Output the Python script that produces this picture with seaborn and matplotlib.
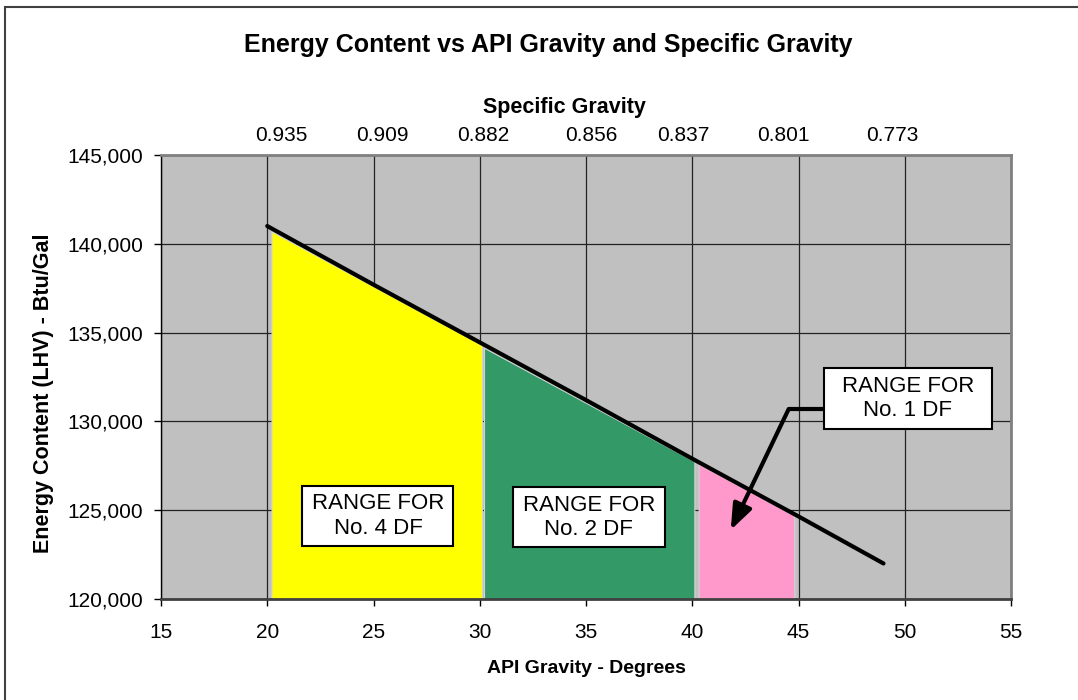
import numpy as np
import pandas as pd
import matplotlib
matplotlib.use('Agg')
import matplotlib.pyplot as plt
from matplotlib.patches import Rectangle
from matplotlib.ticker import StrMethodFormatter
import seaborn as sns

sns.set_theme(style="ticks")
plt.rcParams['font.family'] = ['Liberation Sans', 'DejaVu Sans']
plt.rcParams['text.color'] = 'black'

# energy content line (API gravity vs LHV Btu/gal)
api = [20, 25, 30, 35, 40, 45, 49]
lhv = [141000, 137700, 134450, 131200, 127900, 124650, 122000]

# shaded ranges for the diesel fuel grades
yellow_x = [20.2, 30.1]
yellow_top = [140700, 134300]
green_x = [30.2, 40.1]
green_top = [134150, 127750]
pink_x = [40.3, 44.8]
pink_top = [127600, 124700]

# secondary axis (specific gravity) labels and where they sit on the API scale
sg_labels = ['0.935', '0.909', '0.882', '0.856', '0.837', '0.801', '0.773']
sg_pos = [20.64, 25.44, 30.15, 35.23, 39.6, 44.3, 49.43]

x_ticks = [15, 20, 25, 30, 35, 40, 45, 50, 55]
y_ticks = [120000, 125000, 130000, 135000, 140000, 145000]

df = pd.DataFrame({'api': api, 'lhv': lhv})

fig = plt.figure(figsize=(10.78, 7), dpi=100)
fig.patch.set_facecolor('white')
ax = fig.add_axes([161/1078, 101/700, 850/1078, 444/700])
ax.set_facecolor('#C0C0C0')

ax.fill_between(yellow_x, 120000, yellow_top, color='#FFFF00', edgecolor='#d4d4d4', lw=0.8, zorder=1)
ax.fill_between(green_x, 120000, green_top, color='#339966', edgecolor='#d4d4d4', lw=0.8, zorder=1)
ax.fill_between(pink_x, 120000, pink_top, color='#FF99CC', edgecolor='#d4d4d4', lw=0.8, zorder=1)

sns.lineplot(data=df, x='api', y='lhv', ax=ax, color='black', linewidth=3,
             solid_capstyle='round', zorder=3)

ax.set_xlim(15, 55)
ax.set_ylim(120000, 145000)
ax.set_xticks(x_ticks)
ax.set_yticks(y_ticks)
ax.yaxis.set_major_formatter(StrMethodFormatter('{x:,.0f}'))
ax.set_xlabel('')
ax.set_ylabel('')
ax.set_axisbelow(True)
ax.grid(True, color='#222222', linewidth=0.9)
ax.tick_params(axis='x', direction='out', length=5, width=1, pad=12, labelsize=15, colors='black')
ax.tick_params(axis='y', direction='out', length=5, width=1, pad=8, labelsize=15, colors='black')

for s in ['top', 'right']:
    ax.spines[s].set_color('#808080')
    ax.spines[s].set_linewidth(2)
ax.spines['left'].set_color('black')
ax.spines['left'].set_linewidth(1)
ax.spines['bottom'].set_color('#404040')
ax.spines['bottom'].set_linewidth(2)

ax2 = ax.twiny()
ax2.set_xlim(ax.get_xlim())
ax2.set_xticks(sg_pos)
ax2.set_xticklabels(sg_labels)
ax2.tick_params(axis='x', length=0, pad=7, labelsize=15, colors='black')
for s in ax2.spines.values():
    s.set_visible(False)

# range label boxes (centre in data units, size in pixels)
px_x = 850 / 40.0
px_y = 444 / 25000.0


def label_box(cx, cy, w, h, txt):
    ax.add_patch(Rectangle((cx - w / 2 / px_x, cy - h / 2 / px_y), w / px_x, h / px_y,
                           facecolor='white', edgecolor='black', linewidth=1.5, zorder=5))
    ax.text(cx, cy, txt, ha='center', va='center', fontsize=16, color='black', zorder=6)


label_box(25.21, 124673, 151, 60, 'RANGE FOR\nNo. 4 DF')
label_box(35.13, 124589, 152, 60, 'RANGE FOR\nNo. 2 DF')
label_box(50.14, 131289, 168, 61, 'RANGE FOR\nNo. 1 DF')

# callout arrow for No. 1 DF
ax.plot([46.2, 44.54], [130700, 130700], color='black', lw=3, solid_capstyle='butt',
        solid_joinstyle='miter', zorder=4)
ax.annotate('', xy=(41.81, 123885), xytext=(44.54, 130700),
            arrowprops=dict(arrowstyle='-|>,head_length=1.3,head_width=0.5', lw=3,
                            color='black', shrinkA=0, shrinkB=0), zorder=4)

fig.text(0.5088, 0.9257, 'Energy Content vs API Gravity and Specific Gravity',
         ha='center', va='baseline', fontsize=18, fontweight='bold', color='black')
fig.text(0.5232, 0.8386, 'Specific Gravity', ha='center', va='baseline',
         fontsize=15.5, fontweight='bold', color='black')
fig.text(0.5436, 0.0457, 'API Gravity - Degrees', ha='center', va='center',
         fontsize=14, fontweight='bold', color='black')
fig.text(0.0408, 0.4379, 'Energy Content (LHV) - Btu/Gal', ha='center', va='center',
         rotation=90, fontsize=15.5, fontweight='bold', color='black')

# outer chart frame
fig.patches.append(Rectangle((5/1078, -0.05), 1.2, (700-7)/700 + 0.05,
                             transform=fig.transFigure, fill=False,
                             edgecolor='#404040', linewidth=1.5))

fig.savefig('out.png', dpi=100)
